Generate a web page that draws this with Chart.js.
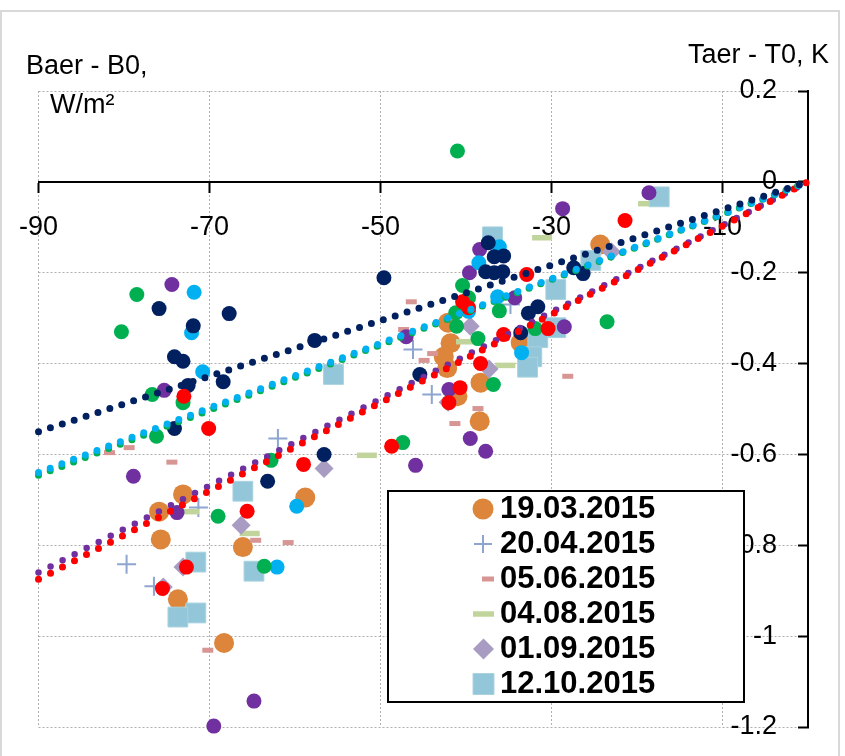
<!DOCTYPE html>
<html>
<head>
<meta charset="utf-8">
<script src="https://cdn.jsdelivr.net/npm/chart.js@4.4.1/dist/chart.umd.min.js"></script>
<style>
  html, body { margin: 0; padding: 0; background: #fff; }
  canvas { display: block; }
</style>
</head>
<body>
<canvas id="chart" width="845" height="756"></canvas>
<script>
const xTicks = [-90, -70, -50, -30, -10];
const yTicks = [0.2, 0, -0.2, -0.4, -0.6, -0.8, -1, -1.2];

// series with a legend entry
const legendLabels = ['19.03.2015', '20.04.2015', '05.06.2015', '04.08.2015', '01.09.2015', '12.10.2015'];
const pts190315 = [[-24.3,-0.138],[-42.1,-0.310],[-41.8,-0.355],[-42.6,-0.385],[-42.2,-0.410],[-38.3,-0.442],[-41.0,-0.472],[-38.4,-0.527],[-33.6,-0.354],[-73.1,-0.688],[-58.8,-0.695],[-75.9,-0.726],[-75.7,-0.787],[-66.1,-0.804],[-73.7,-0.919],[-68.3,-1.015]];
const pts200415 = [[-46.2,-0.369],[-44.0,-0.468],[-62.0,-0.565],[-71.3,-0.717],[-79.7,-0.842],[-76.5,-0.890],[-34.8,-0.270]];
const pts050615 = [[-46.4,-0.264],[-47.3,-0.325],[-43.9,-0.378],[-44.9,-0.393],[-38.6,-0.499],[-41.3,-0.532],[-28.1,-0.428],[-81.7,-0.596],[-79.4,-0.585],[-74.4,-0.617],[-64.6,-0.789],[-60.8,-0.794],[-70.2,-1.031]];
const pts040815 = [[-18.7,-0.048],[-31.1,-0.123],[-40.0,-0.352],[-35.4,-0.404],[-51.6,-0.602],[-72.4,-0.726],[-65.3,-0.774]];
const pts010915 = [[-23.0,-0.154],[-39.5,-0.318],[-37.3,-0.412],[-42.1,-0.485],[-56.6,-0.631],[-66.3,-0.756],[-73.1,-0.848],[-75.4,-0.892]];
const pts121015 = [[-17.4,-0.033],[-36.9,-0.121],[-25.4,-0.173],[-29.5,-0.237],[-29.5,-0.321],[-31.6,-0.343],[-32.3,-0.385],[-32.8,-0.408],[-55.5,-0.424],[-66.1,-0.681],[-71.6,-0.837],[-64.8,-0.857],[-71.6,-0.949],[-73.7,-0.958]];

// series without legend entry, each has a trend line
const navyPts = [[-49.6,-0.211],[-75.9,-0.279],[-71.9,-0.317],[-67.7,-0.290],[-74.1,-0.385],[-73.1,-0.395],[-57.7,-0.349],[-45.4,-0.424],[-72.5,-0.448],[-68.4,-0.440],[-74.1,-0.543],[-63.2,-0.659],[-56.6,-0.600],[-37.4,-0.134],[-36.7,-0.165],[-35.6,-0.163],[-37.7,-0.198],[-36.7,-0.200],[-35.7,-0.198],[-27.4,-0.189],[-26.3,-0.202],[-31.6,-0.275],[-32.7,-0.289],[-33.6,-0.332]];
const skyPts = [[-71.8,-0.243],[-72.1,-0.332],[-70.8,-0.418],[-36.1,-0.143],[-38.5,-0.178],[-36.3,-0.253],[-39.7,-0.285],[-33.5,-0.376],[-59.8,-0.714],[-62.1,-0.848]];
const greenPts = [[-41.0,0.068],[-78.5,-0.248],[-80.3,-0.330],[-40.4,-0.228],[-39.7,-0.255],[-41.2,-0.288],[-36.1,-0.284],[-41.1,-0.318],[-38.6,-0.345],[-31.9,-0.323],[-23.5,-0.308],[-36.8,-0.446],[-47.4,-0.574],[-76.7,-0.468],[-73.1,-0.486],[-76.2,-0.560],[-62.8,-0.613],[-69.0,-0.736],[-63.6,-0.846]];
const redPts = [[-21.4,-0.085],[-32.9,-0.204],[-40.4,-0.264],[-39.7,-0.277],[-35.6,-0.336],[-30.4,-0.323],[-38.3,-0.400],[-40.7,-0.453],[-42.0,-0.486],[-48.7,-0.582],[-59.0,-0.622],[-73.0,-0.472],[-70.1,-0.543],[-65.6,-0.725],[-72.7,-0.848],[-75.5,-0.895]];
const purplePts = [[-74.4,-0.226],[-18.6,-0.024],[-28.7,-0.059],[-38.4,-0.149],[-39.6,-0.200],[-34.3,-0.255],[-28.5,-0.319],[-47.0,-0.341],[-75.3,-0.459],[-78.9,-0.648],[-45.9,-0.624],[-42.0,-0.457],[-39.5,-0.565],[-37.7,-0.593],[-73.8,-0.728],[-64.8,-1.143],[-69.5,-1.198]];

// trend lines: value at x=-90 and at x=0
const trendX = [-90, 0];
const navyTrend = [-0.55, 0];
const skyTrend = [-0.64, 0];
const greenTrend = [-0.646, 0];
const redTrend = [-0.875, 0];
const purpleTrend = [-0.86, 0];

const FONT = '"Liberation Sans", Arial, sans-serif';

function scatter(label, pts, style, order) {
    return Object.assign({
        type: 'scatter',
        label: label,
        data: pts.map(p => ({x: p[0], y: p[1]})),
        clip: false,
        order: order
    }, style);
}

function trend(vals, color, width, gap, order) {
    return {
        type: 'line',
        label: 'trend',
        data: trendX.map((x, i) => ({x: x, y: vals[i]})),
        borderColor: color,
        borderWidth: width,
        borderDash: [0, gap],
        borderCapStyle: 'round',
        pointRadius: 0,
        fill: false,
        clip: false,
        order: order
    };
}

const circle = (c, r) => ({pointStyle: 'circle', pointRadius: r, backgroundColor: c, borderColor: c, pointBorderWidth: 0});

const datasets = [
    scatter(legendLabels[0], pts190315, circle('#dc853b', 10), 20),
    scatter(legendLabels[1], pts200415, {pointStyle: 'cross', pointRadius: 9.5, backgroundColor: '#8ea5cf', borderColor: '#8ea5cf', pointBorderWidth: 2}, 19),
    scatter(legendLabels[2], pts050615, {pointStyle: 'line', pointRadius: 5.5, backgroundColor: '#d79694', borderColor: '#d79694', pointBorderWidth: 5}, 18),
    scatter(legendLabels[3], pts040815, {pointStyle: 'line', pointRadius: 10, backgroundColor: '#c0d49b', borderColor: '#c0d49b', pointBorderWidth: 5.5}, 17),
    scatter(legendLabels[4], pts010915, {pointStyle: 'rectRot', pointRadius: 9.5, backgroundColor: '#a99cc3', borderColor: '#a99cc3', pointBorderWidth: 0}, 16),
    scatter(legendLabels[5], pts121015, {pointStyle: 'rect', pointRadius: 14, backgroundColor: '#93c6d8', borderColor: '#a8d2e0', pointBorderWidth: 1}, 15),
    scatter('purple', purplePts, circle('#7030a0', 7.5), 14),
    scatter('sky', skyPts, circle('#00b0f0', 7.5), 13),
    scatter('green', greenPts, circle('#00b050', 7.5), 12),
    scatter('navy', navyPts, circle('#002060', 7.5), 11),
    scatter('red', redPts, circle('#ff0000', 7.5), 10),
    trend(purpleTrend, '#7030a0', 6.5, 13.5, 6),
    trend(redTrend, '#ff0000', 7, 13.5, 5),
    trend(greenTrend, '#00b050', 7, 12.5, 4),
    trend(skyTrend, '#00b0f0', 7, 12.5, 3),
    trend(navyTrend, '#002060', 7, 12.5, 2)
];

// legend marker centres and sizes (the rosy dash sits a bit to the right)
const legendMarkX = [483, 483, 488, 483.5, 483.5, 483.5];
const legendMarkR = [10.5, 9, 6, 10.5, 10.5, 14.8];

const decor = {
    id: 'decor',
    beforeDraw(chart) {
        const ctx = chart.ctx;
        ctx.save();
        ctx.fillStyle = '#fff';
        ctx.fillRect(0, 0, chart.width, chart.height);
        ctx.strokeStyle = '#d9d9d9';
        ctx.lineWidth = 2;
        ctx.strokeRect(1, 11, 838, 760);
        ctx.restore();
    },
    afterDraw(chart) {
        const ctx = chart.ctx;
        ctx.save();
        // axis titles
        ctx.fillStyle = '#000';
        ctx.font = '27px ' + FONT;
        ctx.textBaseline = 'alphabetic';
        ctx.textAlign = 'left';
        ctx.fillText('Baer - B0,', 26, 74);
        ctx.fillText('W/m\u00B2', 50, 113);
        ctx.fillText('Taer - T0, K', 688, 63);

        // legend box
        const bx = 388, by = 491, bw = 356, bh = 211;
        ctx.fillStyle = '#fff';
        ctx.fillRect(bx, by, bw, bh);
        ctx.lineWidth = 2;
        ctx.strokeStyle = '#000';
        ctx.strokeRect(bx, by, bw, bh);

        ctx.font = 'bold 31px ' + FONT;
        ctx.textBaseline = 'middle';
        legendLabels.forEach((lbl, i) => {
            const ds = chart.data.datasets[i];
            const y = 509 + i * 35;
            ctx.save();
            ctx.fillStyle = ds.backgroundColor;
            ctx.strokeStyle = ds.borderColor;
            ctx.lineWidth = ds.pointBorderWidth;
            Chart.helpers.drawPoint(ctx, {
                pointStyle: ds.pointStyle,
                radius: legendMarkR[i],
                borderWidth: ds.pointBorderWidth,
                rotation: 0
            }, legendMarkX[i], y);
            ctx.restore();
            ctx.fillStyle = '#000';
            ctx.fillText(lbl, 500, y);
        });
        ctx.restore();
    }
};

new Chart(document.getElementById('chart'), {
    type: 'scatter',
    data: { datasets: datasets },
    options: {
        responsive: false,
        devicePixelRatio: 1,
        animation: false,
        events: [],
        layout: { padding: { left: 37, right: 37, top: 91, bottom: 29 } },
        plugins: {
            legend: { display: false },
            tooltip: { enabled: false }
        },
        scales: {
            x: {
                type: 'linear',
                min: -90,
                max: 0,
                position: { y: 0 },
                afterBuildTicks: axis => { axis.ticks = xTicks.map(v => ({value: v})); },
                afterFit: axis => { axis.height = 0; },
                grid: { color: '#b0b0b0', lineWidth: 1, tickLength: 10, tickColor: '#000', tickWidth: 2 },
                border: { color: '#000', width: 2, dash: [2, 2] },
                ticks: { color: '#000', padding: 19, maxRotation: 0, font: { family: FONT, size: 27 } }
            },
            y: {
                type: 'linear',
                min: -1.2,
                max: 0.2,
                position: 'right',
                afterBuildTicks: axis => { axis.ticks = yTicks.map(v => ({value: v})); },
                afterFit: axis => { axis.width = 0; },
                // negative tick length puts the tick marks inside, to the left of the axis
                grid: { color: '#b0b0b0', lineWidth: 1, tickLength: -10, tickColor: '#000', tickWidth: 2 },
                border: { color: '#000', width: 2, dash: [2, 2] },
                ticks: {
                    color: '#000',
                    mirror: true,
                    crossAlign: 'near',
                    padding: -31,
                    font: { family: FONT, size: 27 },
                    callback: v => String(Number(v.toFixed(1)))
                }
            }
        }
    },
    plugins: [decor]
});
</script>
</body>
</html>
